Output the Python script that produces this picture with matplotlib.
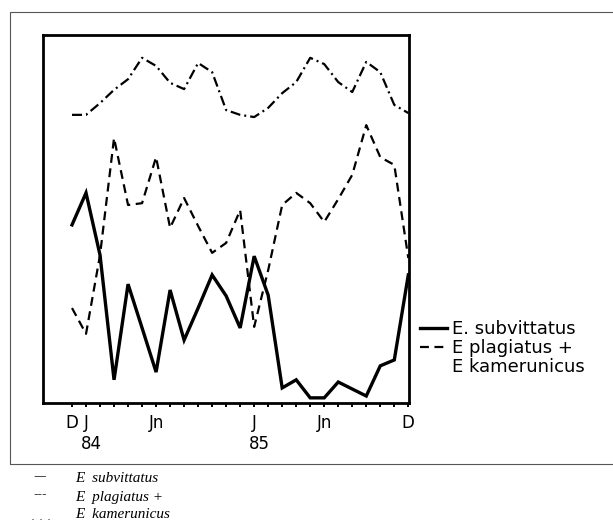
import numpy as np
import matplotlib
matplotlib.use("Agg")
import matplotlib.pyplot as plt
from matplotlib.lines import Line2D
from matplotlib.patches import Rectangle
import matplotlib.transforms as mtransforms

plt.rcParams['font.family'] = ['Liberation Sans Narrow', 'DejaVu Sans']

# months from Dec 1983 (0) to Dec 1985 (24)
months = np.arange(25)
month_labels = ['D', 'J', '', '', '', '', 'Jn', '', '', '', '', '', '',
                'J', '', '', '', '', 'Jn', '', '', '', '', '', 'D']
year_pos = [1, 13]
year_labels = ['84', '85']

# relative abundance (0-100 scale of the plot box)
subvittatus = [48.4, 57.1, 40.2, 6.3, 32.3, 20.4, 8.4, 30.7, 17.1, 25.8, 34.8, 29.1, 20.4,
               39.9, 29.3, 4.1, 6.3, 1.4, 1.4, 5.7, 3.8, 1.9, 10.1, 11.7, 34.8]
plagiatus = [25.8, 18.8, 40.2, 72.0, 53.8, 54.3, 66.8, 47.6, 55.7, 48.1, 40.8, 43.5, 52.4,
             20.7, 36.1, 53.8, 57.1, 54.3, 49.2, 55.4, 62.0, 75.5, 66.8, 64.7, 39.4]
kamerunicus = [78.3, 78.3, 81.5, 85.1, 88.0, 93.8, 91.6, 87.0, 85.3, 92.4, 89.9, 79.6, 78.3,
               77.7, 80.2, 84.2, 87.2, 93.8, 92.1, 87.2, 84.5, 92.7, 89.9, 81.0, 78.8]

fig = plt.figure(figsize=(6.13, 5.25), dpi=100)
ax = fig.add_axes([43/613, 1-403/525, (409-43)/613, (403-35)/525])

l1, = ax.plot(months, subvittatus, color='black', lw=2.4, solid_joinstyle='miter')
l2, = ax.plot(months, plagiatus, color='black', lw=1.6, dashes=(4, 2.5))
l3, = ax.plot(months, kamerunicus, color='black', lw=1.6, dashes=(4.5, 1.8, 0.9, 1.8))

ax.set_xlim(-2.07, 24.05)
ax.set_ylim(0, 100)
ax.set_yticks([])
ax.set_xticks(months)
ax.set_xticklabels(month_labels, fontsize=12)
ax.tick_params(axis='x', direction='out', length=3, width=1.4, pad=5)
for s in ax.spines.values():
    s.set_linewidth(2)

trans = mtransforms.blended_transform_factory(ax.transData, ax.transAxes)
for p, t in zip(year_pos, year_labels):
    ax.text(p + 0.35, -0.111, t, transform=trans, ha='center', va='center', fontsize=12)

blank = Line2D([], [], color='none')
fig.legend([l1, l2, blank], ['E. subvittatus', 'E plagiatus +', 'E kamerunicus'],
           loc='upper left', bbox_to_anchor=(420/613, 1-320/525), frameon=False,
           fontsize=13, handlelength=1.5, handletextpad=0.3, labelspacing=0.05,
           borderpad=0, borderaxespad=0)

# outer frame of the figure panel
fig.add_artist(Rectangle((10/613, 1-464/525), 0.99, (464-12)/525, transform=fig.transFigure,
                         fill=False, edgecolor='#555555', lw=0.8))

# caption key below the panel
cap = dict(family=['Liberation Serif', 'DejaVu Serif'], fontsize=11)
fig.text(33/613, 1-477/525, '—', va='center', fontsize=9, color='#444444')
fig.text(33/613, 1-495/525, '---', va='center', fontsize=9, color='#444444')
fig.text(31/613, 1-517/525, '. . .', va='center', fontsize=9, color='#444444')
fig.text(75/613, 1-478/525, 'E  subvittatus', va='center', style='italic', **cap)
fig.text(75/613, 1-497/525, 'E  plagiatus +', va='center', style='italic', **cap)
fig.text(75/613, 1-515/525, 'E  kamerunicus', va='center', style='italic', **cap)

fig.savefig('out.png', dpi=100)
